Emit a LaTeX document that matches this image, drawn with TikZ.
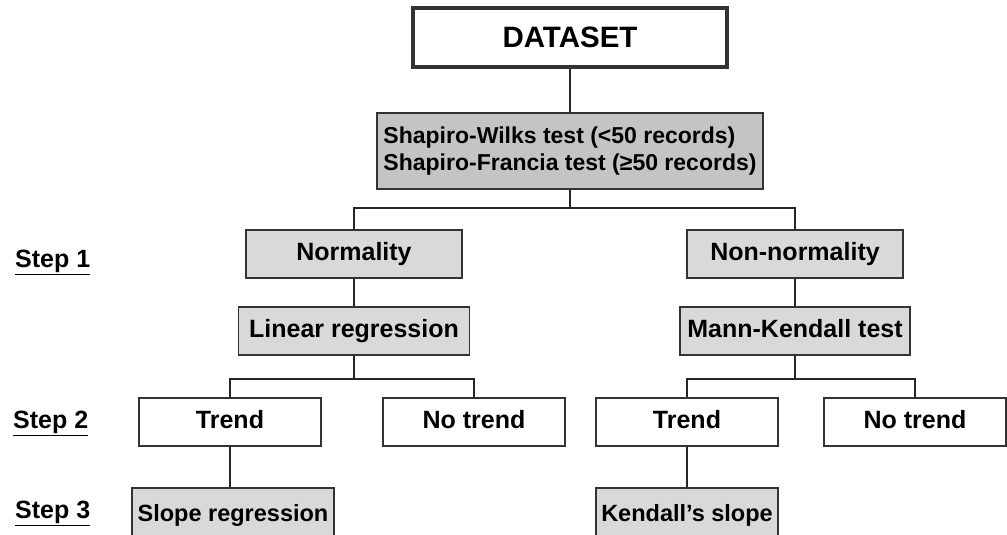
\documentclass[tikz,border=0pt]{standalone}
\usepackage{fontspec}
\setmainfont{Liberation Sans}

\tikzset{
  frame/.style={draw=black!80, line width=1.8pt, inner sep=0pt},
  box/.style={frame, minimum height=48pt, text height=18pt, text depth=5pt,
    font=\bfseries\fontsize{25}{30}\selectfont},
  greybox/.style={box, fill=black!15},
  link/.style={draw=black!85, line width=1.8pt},
  steplabel/.style={anchor=west, inner sep=0pt, font=\bfseries\fontsize{25}{30}\selectfont},
}

\begin{document}
\begin{tikzpicture}[x=1pt,y=-1pt]
\useasboundingbox (0,0) rectangle (1007,535);
\clip (0,0) rectangle (1007,535);
% top of the tree:
\node[frame, line width=4pt, minimum width=314pt, minimum height=59pt,
  font=\bfseries\fontsize{29.5}{34}\selectfont] (dataset) at (570,37.5) {DATASET};
\node[frame, fill=black!23, minimum width=386pt, minimum height=76pt, align=left,
  font=\bfseries\fontsize{23}{27}\selectfont] (shapiro) at (570,151)
  {Shapiro-Wilks test (<50 records)\\Shapiro-Francia test (≥50 records)};
% step 1:
\node[greybox, minimum width=216pt] (norm) at (354,254) {Normality};
\node[greybox, minimum width=216pt] (nonnorm) at (795,254) {Non-normality};
\node[greybox, minimum width=231pt] (linreg) at (354,331) {Linear regression};
\node[greybox, minimum width=230pt] (mannk) at (795,331) {Mann-Kendall test};
% step 2:
\node[box, minimum width=182pt] (trendL) at (230,422) {Trend};
\node[box, minimum width=182pt] (notrendL) at (474,422) {No trend};
\node[box, minimum width=182pt] (trendR) at (687,422) {Trend};
\node[box, minimum width=182pt] (notrendR) at (915,422) {No trend};
% step 3:
\node[greybox, minimum width=202pt, minimum height=54pt,
  font=\bfseries\fontsize{23.5}{28}\selectfont] (slope) at (233,515) {Slope regression};
\node[greybox, minimum width=182pt, minimum height=54pt,
  font=\bfseries\fontsize{23.5}{28}\selectfont] (kendall) at (687,515) {Kendall’s slope};
% step labels:
\node[steplabel] (step1) at (15,262) {\underline{Step 1}};
\node[steplabel] (step2) at (13,423) {\underline{Step 2}};
\node[steplabel] (step3) at (15,513) {\underline{Step 3}};
% connectors:
\coordinate (forkA) at (570,208);
\coordinate (forkB) at (354,379);
\coordinate (forkC) at (795,379);
\draw[link] (dataset) -- (shapiro);
\draw[link] (shapiro) -- (forkA);
\draw[link] (norm) |- (forkA) -| (nonnorm);
\draw[link] (norm) -- (linreg);
\draw[link] (nonnorm) -- (mannk);
\draw[link] (linreg) -- (forkB);
\draw[link] (mannk) -- (forkC);
\draw[link] (trendL) |- (forkB) -| (notrendL);
\draw[link] (trendR) |- (forkC) -| (notrendR);
\draw[link] (trendL) -- (trendL |- slope.north);
\draw[link] (trendR) -- (kendall);
\end{tikzpicture}
\end{document}
